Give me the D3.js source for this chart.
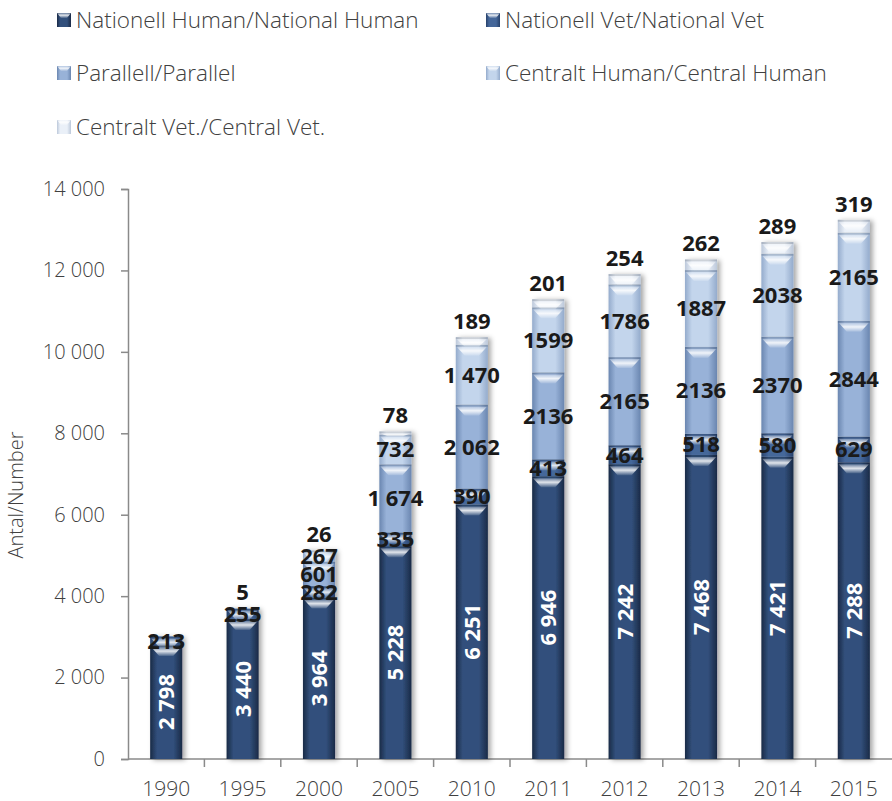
<!DOCTYPE html>
<html>
<head>
<meta charset="utf-8">
<script src="https://cdn.jsdelivr.net/npm/d3@7"></script>
<style>
  body { margin: 0; background: #fff; }
  svg text { font-family: "Open Sans", "DejaVu Sans", sans-serif; }
  .light { font-weight: 300; }
</style>
</head>
<body>
<svg id="chart" width="892" height="801"></svg>
<script>
// data
var years = ["1990", "1995", "2000", "2005", "2010", "2011", "2012", "2013", "2014", "2015"];
var nationalHuman = [2798, 3440, 3964, 5228, 6251, 6946, 7242, 7468, 7421, 7288];
var nationalVet = [213, 255, 282, 335, 390, 413, 464, 518, 580, 629];
var parallel = [0, 0, 601, 1674, 2062, 2136, 2165, 2136, 2370, 2844];
var centralHuman = [0, 0, 267, 732, 1470, 1599, 1786, 1887, 2038, 2165];
var centralVet = [0, 5, 26, 78, 189, 201, 254, 262, 289, 319];
var seriesNames = ["Nationell Human/National Human", "Nationell Vet/National Vet", "Parallell/Parallel",
                   "Centralt Human/Central Human", "Centralt Vet./Central Vet."];
var yTicks = [0, 2000, 4000, 6000, 8000, 10000, 12000, 14000];
// years where the source writes labels with a thousands space
var spacedYears = ["2005", "2010"];

var seriesValues = [nationalHuman, nationalVet, parallel, centralHuman, centralVet];
var colours = [
  { edge: "#1a2a46", mid: "#32507c" },
  { edge: "#27416b", mid: "#45679a" },
  { edge: "#6a86b0", mid: "#98b2d8" },
  { edge: "#94abcc", mid: "#c3d5ec" },
  { edge: "#bcc8da", mid: "#eaf0f8" }
];

var svg = d3.select("#chart");
var plotLeft = 128, plotRight = 892, plotTop = 189, plotBottom = 759;

var x = d3.scaleBand().domain(years).range([plotLeft, plotRight]).paddingInner(0.58).paddingOuter(0.29);
var y = d3.scaleLinear().domain([0, 14000]).range([plotBottom, plotTop]);

var rows = years.map(function(yr, i) {
  var r = { year: yr };
  seriesValues.forEach(function(s, k) { r["s" + k] = s[i]; });
  return r;
});
var keys = seriesValues.map(function(s, k) { return "s" + k; });
var stacked = d3.stack().keys(keys)(rows);

// gradients
var defs = svg.append("defs");
colours.forEach(function(c, k) {
  var g = defs.append("linearGradient").attr("id", "grad" + k).attr("x1", "0").attr("x2", "1").attr("y1", "0").attr("y2", "0");
  g.append("stop").attr("offset", "0%").attr("stop-color", c.edge);
  g.append("stop").attr("offset", "22%").attr("stop-color", c.mid);
  g.append("stop").attr("offset", "72%").attr("stop-color", c.mid);
  g.append("stop").attr("offset", "100%").attr("stop-color", c.edge);
});
var hl = defs.append("linearGradient").attr("id", "hl").attr("x1", "0").attr("x2", "0").attr("y1", "0").attr("y2", "1");
hl.append("stop").attr("offset", "0%").attr("stop-color", "#fff").attr("stop-opacity", 0.25);
hl.append("stop").attr("offset", "45%").attr("stop-color", "#fff").attr("stop-opacity", 0.85);
hl.append("stop").attr("offset", "100%").attr("stop-color", "#fff").attr("stop-opacity", 0.1);

var shadow = defs.append("filter").attr("id", "shadow").attr("x", "-20%").attr("y", "-5%").attr("width", "160%").attr("height", "110%");
shadow.append("feDropShadow").attr("dx", 3).attr("dy", 1).attr("stdDeviation", 2.5)
  .attr("flood-color", "#000").attr("flood-opacity", 0.35);

// axes
var yAxis = svg.append("g").attr("transform", "translate(" + plotLeft + ",0)")
  .call(d3.axisLeft(y).tickValues(yTicks).tickSize(7).tickPadding(16)
    .tickFormat(function(d) { return d3.format(",")(d).replace(/,/g, " "); }));
yAxis.select(".domain").attr("stroke", "#8a8a8a").attr("stroke-width", 1.5);
yAxis.selectAll(".tick line").attr("stroke", "#8a8a8a").attr("stroke-width", 1.5);
yAxis.selectAll(".tick text").attr("class", "light").attr("fill", "#404040").style("font-size", "20px");

var xAxisG = svg.append("g");
xAxisG.append("line").attr("x1", plotLeft).attr("x2", plotRight).attr("y1", plotBottom).attr("y2", plotBottom)
  .attr("stroke", "#8a8a8a").attr("stroke-width", 1.5);
xAxisG.selectAll("line.tk").data(years.slice(1)).enter().append("line").attr("class", "tk")
  .attr("x1", function(d) { return x(d) - x.step() * x.paddingInner() / 2; })
  .attr("x2", function(d) { return x(d) - x.step() * x.paddingInner() / 2; })
  .attr("y1", plotBottom).attr("y2", plotBottom + 8).attr("stroke", "#8a8a8a").attr("stroke-width", 1.5);
xAxisG.selectAll("text").data(years).enter().append("text").attr("class", "light")
  .attr("x", function(d) { return x(d) + x.bandwidth() / 2; })
  .attr("y", 796).attr("text-anchor", "middle").attr("fill", "#404040").style("font-size", "21px")
  .text(function(d) { return d; });

svg.append("text").attr("class", "light").attr("transform", "translate(23," + 495 + ") rotate(-90)")
  .attr("text-anchor", "middle").attr("fill", "#404040").style("font-size", "20px").text("Antal/Number");

// bars
var barsG = svg.append("g");
years.forEach(function(yr, i) {
  var g = barsG.append("g").attr("filter", "url(#shadow)");
  var x0 = x(yr), w = x.bandwidth();
  stacked.forEach(function(layer, k) {
    var d = layer[i];
    var h = y(d[0]) - y(d[1]);
    if (h <= 0) return;
    g.append("rect").attr("x", x0).attr("y", y(d[1])).attr("width", w).attr("height", h)
      .attr("fill", "url(#grad" + k + ")");
  });
  stacked.forEach(function(layer, k) {
    var d = layer[i];
    var h = y(d[0]) - y(d[1]);
    if (h <= 1) return;
    var t = y(d[1]), bh = Math.min(9, h);
    g.append("rect").attr("x", x0).attr("y", t).attr("width", w).attr("height", Math.min(2, h))
      .attr("fill", "#000").attr("opacity", 0.12);
    g.append("polygon")
      .attr("points", [[x0 + 1, t + 2], [x0 + w - 1, t + 2], [x0 + w - 9, t + bh + 2], [x0 + 9, t + bh + 2]].join(" "))
      .attr("fill", "url(#hl)");
  });
});

// labels
function fmt(v, yr, k) {
  var s = d3.format(",")(v);
  if (k === 0 || spacedYears.indexOf(yr) >= 0) return s.replace(/,/g, " ");
  return s.replace(/,/g, "");
}
var labelsG = svg.append("g");
years.forEach(function(yr, i) {
  var cx = x(yr) + x.bandwidth() / 2;
  stacked.forEach(function(layer, k) {
    var d = layer[i], v = d[1] - d[0];
    if (v <= 0) return;
    if (k === 0) {
      var cy = (y(d[0]) + y(d[1])) / 2;
      labelsG.append("text").attr("transform", "translate(" + cx + "," + cy + ") rotate(-90)")
        .attr("text-anchor", "middle").attr("dy", "0.36em").attr("fill", "#fff")
        .style("font-size", "22px").style("font-weight", "700").text(fmt(v, yr, k));
    } else {
      var ly = k === 4 ? y(d[1]) - 16 : (y(d[0]) + y(d[1])) / 2;
      labelsG.append("text").attr("x", cx).attr("y", ly).attr("dy", "0.36em")
        .attr("text-anchor", "middle").attr("fill", "#1a1a1a")
        .style("font-size", "22px").style("font-weight", "700").text(fmt(v, yr, k));
    }
  });
});

// legend
var legendPos = [[57, 20], [486, 20], [57, 73], [486, 73], [57, 127]];
var legend = svg.append("g");
seriesNames.forEach(function(name, k) {
  var p = legendPos[k];
  legend.append("rect").attr("x", p[0]).attr("y", p[1] - 7).attr("width", 14).attr("height", 14)
    .attr("fill", "url(#grad" + k + ")");
  legend.append("polygon")
    .attr("points", [[p[0], p[1] - 7], [p[0] + 14, p[1] - 7], [p[0] + 10, p[1] - 2], [p[0] + 4, p[1] - 2]].join(" "))
    .attr("fill", "url(#hl)");
  legend.append("text").attr("class", "light").attr("x", p[0] + 19).attr("y", p[1]).attr("dy", "0.36em")
    .attr("fill", "#404040").style("font-size", "22.5px").text(name);
});
</script>
</body>
</html>
